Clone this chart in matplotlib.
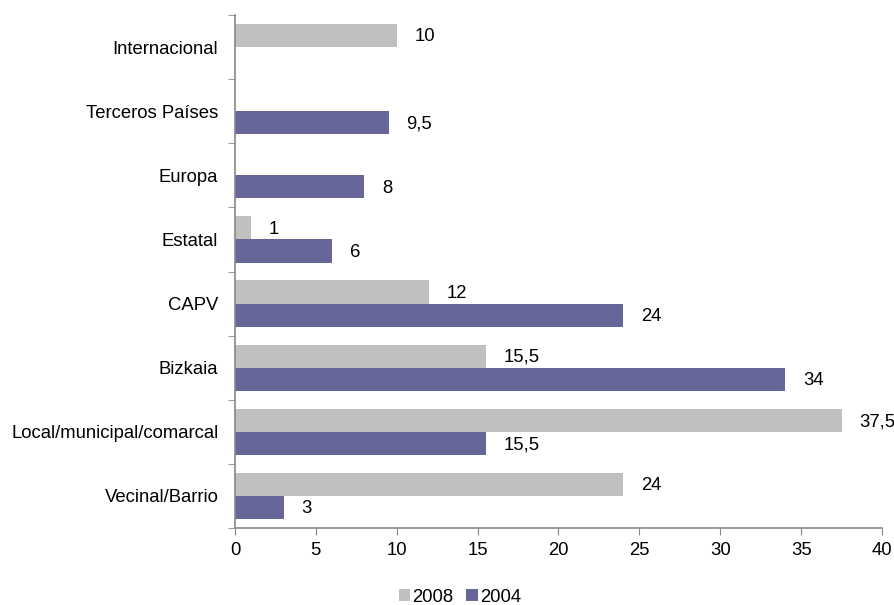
import matplotlib
matplotlib.use("Agg")
import matplotlib.pyplot as plt
import numpy as np

categories = ["Vecinal/Barrio", "Local/municipal/comarcal", "Bizkaia", "CAPV",
              "Estatal", "Europa", "Terceros Países", "Internacional"]
values_2008 = [24, 37.5, 15.5, 12, 1, None, None, 10]
values_2004 = [3, 15.5, 34, 24, 6, 8, 9.5, None]
xticks = [0, 5, 10, 15, 20, 25, 30, 35, 40]

plt.rcParams['font.family'] = ['Liberation Sans', 'DejaVu Sans']
FS = 13.3

fig = plt.figure(figsize=(8.95, 6.05), dpi=100)
ax = fig.add_axes([235/895, 1-528/605, (882-235)/895, (528-15)/605])

c08 = "#C0C0C0"
c04 = "#666699"
h = 0.36
y = np.arange(len(categories))

def fmt(v):
    return ("%g" % v).replace(".", ",")

for i, (a, b) in enumerate(zip(values_2008, values_2004)):
    if a is not None:
        ax.barh(y[i] + h/2, a, height=h, color=c08, label="2008" if i == 0 else None)
        ax.text(a + 1.1, y[i] + h/2 - 0.02, fmt(a), va="center", ha="left", fontsize=FS)
    if b is not None:
        ax.barh(y[i] - h/2, b, height=h, color=c04, label="2004" if i == 0 else None)
        ax.text(b + 1.1, y[i] - h/2 - 0.02, fmt(b), va="center", ha="left", fontsize=FS)

ax.set_xlim(0, 40)
ax.set_ylim(-0.5, len(categories) - 0.5)
ax.set_xticks(xticks)
ax.set_xticklabels([str(t) for t in xticks], fontsize=FS)
ax.set_yticks(y)
ax.set_yticklabels(categories, fontsize=FS)
ax.tick_params(axis='y', which='major', length=0, pad=12)
ax.set_yticks(np.arange(-0.5, len(categories), 1.0), minor=True)
ax.tick_params(axis='y', which='minor', length=5, color="#888888", direction='out')
ax.tick_params(axis='x', length=5, color="#888888", direction='out', pad=5)

for s in ["top", "right"]:
    ax.spines[s].set_visible(False)
for s in ["left", "bottom"]:
    ax.spines[s].set_color("#888888")
    ax.spines[s].set_linewidth(1.2)

handles, labels = ax.get_legend_handles_labels()
fig.legend(handles, labels, loc="center", bbox_to_anchor=(460/895, 1-597/605),
           ncol=2, frameon=False, fontsize=FS, handlelength=0.6, handleheight=0.6,
           handletextpad=0.15, columnspacing=0.7)

fig.savefig("out.png", dpi=100)
